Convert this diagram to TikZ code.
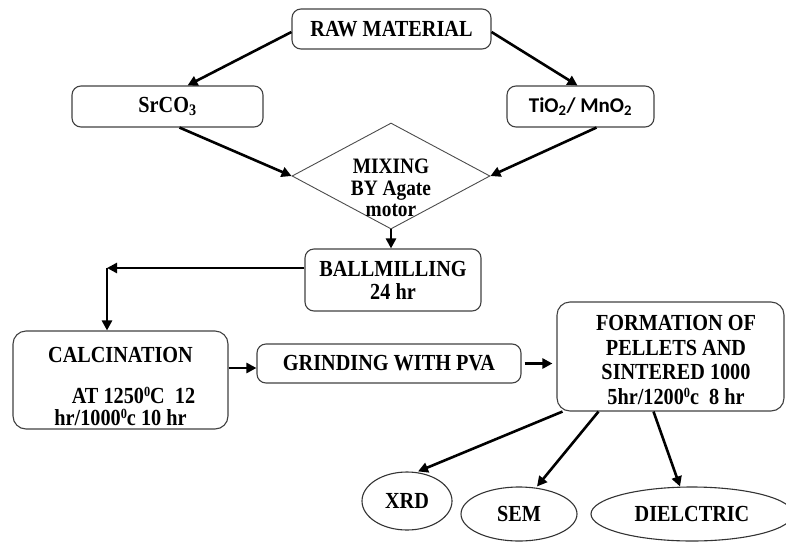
\documentclass[tikz,border=0pt]{standalone}
\usepackage{fontspec}
\setmainfont[FakeStretch=0.88]{Liberation Serif}
\newfontfamily\calib{Carlito}
\usetikzlibrary{shapes.geometric,arrows.meta,calc}
\newcommand{\degsup}{\raisebox{0.3em}{\fontsize{14}{14}\selectfont 0}}
\begin{document}
\begin{tikzpicture}[x=1pt,y=-1pt,
  txt/.style={font=\fontsize{23}{24}\selectfont\bfseries, align=center, inner sep=0pt},
  box/.style={txt, draw=black!75, line width=1.1pt, rounded corners=9pt},
  oval/.style={txt, ellipse, draw=black!80, line width=1.1pt},
  arr/.style={line width=2.6pt, -{Triangle[length=10pt,width=10pt]}}]
\useasboundingbox (0,0) rectangle (786,541);
% boxes
\node[box, minimum width=199pt, minimum height=40pt] (raw) at (391.5,29) {RAW MATERIAL};
\node[box, minimum width=191pt, minimum height=41pt] (sr) at (167.5,106.5) {SrCO\textsubscript{3}};
\node[box, minimum width=147pt, minimum height=41pt, font=\fontsize{21}{24}\calib\bfseries] (ti) at (580.5,106.5) {TiO\textsubscript{2}/ MnO\textsubscript{2}};
\node[diamond, draw=black!70, line width=0.9pt, minimum width=198pt, minimum height=106pt, inner sep=0pt] (mix) at (391,176) {};
\node[txt, font=\fontsize{22}{21.5}\selectfont\bfseries] (mixtext) at (391,188) {MIXING\\BY Agate\\motor};
\node[box, minimum width=176pt, minimum height=62pt, font=\fontsize{23}{23}\selectfont\bfseries] (ball) at (393,280) {BALLMILLING\\24 hr};
\node[box, minimum width=215pt, minimum height=98pt, rounded corners=13pt] (calc) at (120.5,380) {};
\node[txt, font=\fontsize{23}{21.5}\selectfont\bfseries] (calctext) at (120.5,386)
  {CALCINATION\\[20pt]\hspace*{26pt}AT 1250\degsup C\ \ 12\\hr/1000\degsup c 10 hr};
\node[box, minimum width=264pt, minimum height=39pt] (grind) at (389,363.5) {GRINDING WITH PVA};
\node[box, minimum width=227pt, minimum height=109pt, rounded corners=13pt] (form) at (670.5,356.5) {};
\node[txt, font=\fontsize{23}{24.5}\selectfont\bfseries] (formtext) at (676,360)
  {FORMATION OF\\PELLETS AND\\SINTERED 1000\\5hr/1200\degsup c\ \ 8 hr};
\node[oval, minimum width=90pt, minimum height=58pt] (xrd) at (407,501) {XRD};
\node[oval, minimum width=116pt, minimum height=54pt] (sem) at (519,514) {SEM};
\node[oval, minimum width=202pt, minimum height=54pt] (diel) at (692,514) {DIELCTRIC};
% connectors
\coordinate (bend) at (107,268);
\draw[arr] ([yshift=-3]raw.west) -- ([xshift=20]sr.north);
\draw[arr] ([yshift=-3]raw.east) -- ([xshift=-3]ti.north);
\draw[arr] ([xshift=12]sr.south) -- (mix.west);
\draw[arr] ([xshift=16]ti.south) -- (mix.east);
\draw[arr] (mix.south) -- (mix.south |- ball.north);
\draw[arr] ([yshift=12]ball.west) -- (bend);
\draw[arr] (bend) -- (bend |- calc.north);
\draw[arr] ([yshift=12]calc.east) -- ([yshift=12]calc.east -| grind.west);
\draw[arr, shorten <=3pt, shorten >=4pt] (grind.east) -- (grind.east -| form.west);
\draw[arr] ([xshift=-108]form.south) -- ([xshift=11]xrd.north);
\draw[arr] ([xshift=-72]form.south) -- ([xshift=18]sem.north);
\draw[arr] ([xshift=-17]form.south) -- ([xshift=-12]diel.north);
\end{tikzpicture}
\end{document}
